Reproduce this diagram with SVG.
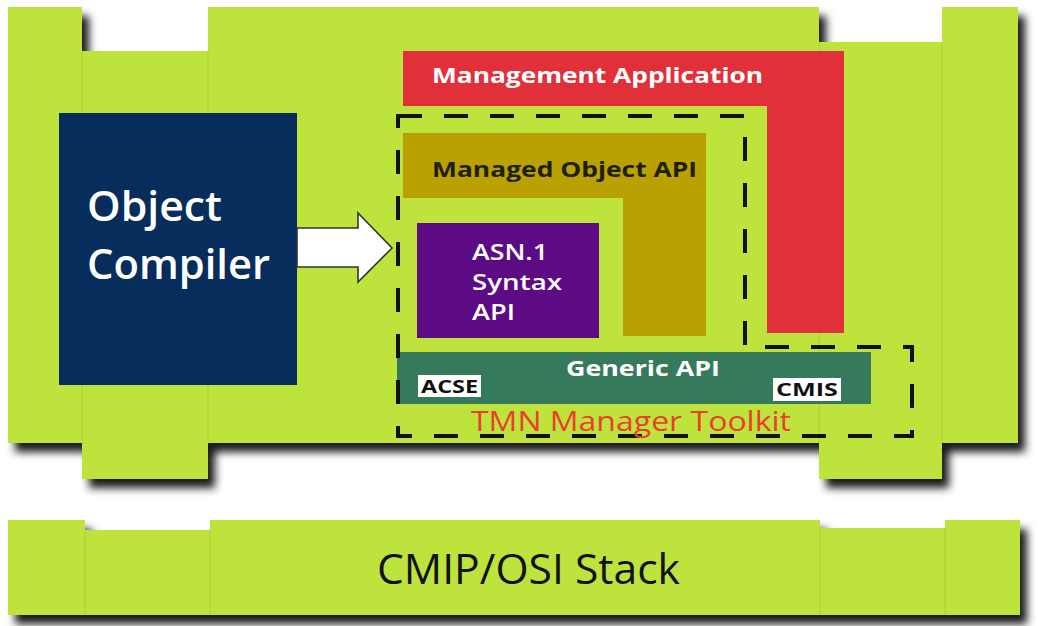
<svg xmlns="http://www.w3.org/2000/svg" width="1038" height="626" viewBox="0 0 1038 626">
<defs>
<filter id="sh" x="-5%" y="-5%" width="115%" height="125%">
<feDropShadow dx="7" dy="9" stdDeviation="4" flood-color="#000" flood-opacity="0.9"/>
</filter>
<style>
.g{fill:#bfe33d}
.seam{stroke:#b0d234;stroke-width:1.2}
.lbl{font-family:"Open Sans","Liberation Sans",sans-serif}
.bold{font-family:"Open Sans","Liberation Sans",sans-serif;font-weight:700}
.dash{fill:none;stroke:#111;stroke-width:4;stroke-dasharray:24 22}
.tag{fill:#fff}
</style>
</defs>
<rect width="1038" height="626" fill="#fff"/>

<g id="platform">
<g filter="url(#sh)">
<rect class="g" x="8" y="7" width="74" height="436"/>
<rect class="g" x="82" y="51" width="126" height="428"/>
<rect class="g" x="208" y="7" width="611" height="436"/>
<rect class="g" x="819" y="42" width="123" height="437"/>
<rect class="g" x="942" y="7" width="76" height="436"/>
</g>
<line class="seam" x1="82" y1="51" x2="82" y2="443"/>
<line class="seam" x1="208" y1="51" x2="208" y2="443"/>
<line class="seam" x1="819" y1="42" x2="819" y2="443"/>
<line class="seam" x1="942" y1="42" x2="942" y2="443"/>
</g>

<g id="stack">
<g filter="url(#sh)">
<rect class="g" x="8" y="520" width="77" height="95"/>
<rect class="g" x="85" y="530" width="125" height="85"/>
<rect class="g" x="210" y="520" width="610" height="95"/>
<rect class="g" x="820" y="528" width="125" height="87"/>
<rect class="g" x="945" y="520" width="75" height="95"/>
</g>
<line class="seam" x1="85" y1="530" x2="85" y2="615"/>
<line class="seam" x1="210" y1="530" x2="210" y2="615"/>
<line class="seam" x1="820" y1="528" x2="820" y2="615"/>
<line class="seam" x1="945" y1="528" x2="945" y2="615"/>
<text class="lbl" x="377" y="584" font-size="42" font-weight="500" fill="#111" textLength="303" lengthAdjust="spacingAndGlyphs">CMIP/OSI Stack</text>
</g>

<g id="object-compiler">
<rect x="59" y="113" width="238" height="272" fill="#062d5c"/>
<text class="lbl" x="87" y="221" font-size="41" font-weight="600" fill="#fff" textLength="135" lengthAdjust="spacingAndGlyphs">Object</text>
<text class="lbl" x="87" y="279" font-size="41" font-weight="600" fill="#fff" textLength="183" lengthAdjust="spacingAndGlyphs">Compiler</text>
</g>

<g id="management-application">
<path d="M403,51 H844 V333 H767 V106 H403 Z" fill="#e2303a"/>
<text class="bold" x="432" y="83" font-size="22" fill="#fff" textLength="331" lengthAdjust="spacingAndGlyphs">Management Application</text>
</g>

<g id="managed-object-api">
<path d="M403,133 H706 V336 H623 V198 H403 Z" fill="#b8a100"/>
<text class="bold" x="432" y="177" font-size="22" fill="#1f1f0c" textLength="265" lengthAdjust="spacingAndGlyphs">Managed Object API</text>
</g>

<g id="asn1-syntax-api">
<rect x="417" y="223" width="182" height="115" fill="#5c0b85"/>
<text class="lbl" x="472" y="260" font-size="22" font-weight="600" fill="#fff" textLength="76" lengthAdjust="spacingAndGlyphs">ASN.1</text>
<text class="lbl" x="472" y="290" font-size="22" font-weight="600" fill="#fff" textLength="90" lengthAdjust="spacingAndGlyphs">Syntax</text>
<text class="lbl" x="472" y="320" font-size="22" font-weight="600" fill="#fff" textLength="43" lengthAdjust="spacingAndGlyphs">API</text>
</g>

<g id="generic-api">
<rect x="397" y="352" width="474" height="52" fill="#357a5a"/>
<text class="bold" x="566" y="376" font-size="22" fill="#fff" textLength="154" lengthAdjust="spacingAndGlyphs">Generic API</text>
<rect class="tag" x="418" y="375" width="63" height="22"/>
<text class="bold" x="421" y="393" font-size="18" fill="#111" textLength="57" lengthAdjust="spacingAndGlyphs">ACSE</text>
<rect class="tag" x="773" y="378" width="68" height="23"/>
<text class="bold" x="776" y="396" font-size="18" fill="#111" textLength="62" lengthAdjust="spacingAndGlyphs">CMIS</text>
</g>

<g id="tmn-manager-toolkit">
<path class="dash" d="M398,116 H745 V347 H912 V436 H398 Z"/>
<text class="lbl" x="471" y="431" font-size="27" fill="#ea3f2c" textLength="320" lengthAdjust="spacingAndGlyphs">TMN Manager Toolkit</text>
</g>

<g id="connectors">
<path d="M297,228 H358 V213 L392,248 L358,282 V267 H297 Z" fill="#fff" stroke="#333" stroke-width="1.6" stroke-linejoin="miter"/>
</g>
</svg>
